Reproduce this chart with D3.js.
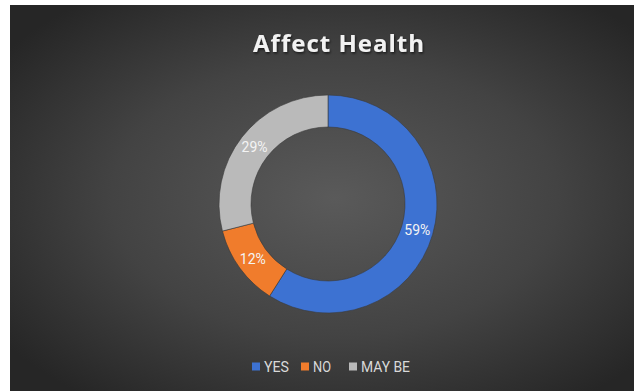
<!DOCTYPE html>
<html>
<head>
<meta charset="utf-8">
<script src="https://cdn.jsdelivr.net/npm/d3@7"></script>
<style>
  html, body { margin: 0; padding: 0; background: #ffffff; }
  svg { display: block; }
</style>
</head>
<body>
<svg id="chart" width="634" height="391"></svg>
<script>
// Survey answers and their shares (percent)
const categories = ["YES", "NO", "MAY BE"];
const values = [59, 12, 29];
const colors = ["#3d72d2", "#f07c2c", "#bababa"];
const title = "Affect Health";

const W = 634, H = 391;
const svg = d3.select("#chart");
const defs = svg.append("defs");

// Dark radial background of the chart area
const bg = defs.append("radialGradient").attr("id", "bgGrad")
  .attr("cx", "52%").attr("cy", "50%").attr("r", "65%");
bg.append("stop").attr("offset", "0%").attr("stop-color", "#5a5a5a");
bg.append("stop").attr("offset", "55%").attr("stop-color", "#434343");
bg.append("stop").attr("offset", "100%").attr("stop-color", "#262626");

// Soft shadow under the title
const shadow = defs.append("filter").attr("id", "titleShadow")
  .attr("x", "-10%").attr("y", "-30%").attr("width", "120%").attr("height", "160%");
shadow.append("feDropShadow")
  .attr("dx", 1).attr("dy", 1.5).attr("stdDeviation", 1.2)
  .attr("flood-color", "#000").attr("flood-opacity", 0.6);

const plot = { x: 10, y: 5, w: W - 10, h: H - 5 };
svg.append("rect")
  .attr("x", plot.x).attr("y", plot.y)
  .attr("width", plot.w).attr("height", plot.h)
  .attr("fill", "url(#bgGrad)");

// Title
svg.append("text")
  .attr("x", 339).attr("y", 52)
  .attr("text-anchor", "middle")
  .attr("font-family", "'Open Sans', 'DejaVu Sans', sans-serif")
  .attr("font-weight", "bold")
  .attr("font-size", 24)
  .attr("letter-spacing", 1)
  .attr("fill", "#f2f2f2")
  .attr("filter", "url(#titleShadow)")
  .text(title);

// Donut
const cx = 328, cy = 204;
const outerR = 109, innerR = 77;
const data = categories.map((c, i) => ({ cat: c, value: values[i], color: colors[i] }));

const pie = d3.pie().value(d => d.value).sort(null);
const arc = d3.arc().innerRadius(innerR).outerRadius(outerR);
const labelArc = d3.arc().innerRadius((innerR + outerR) / 2).outerRadius((innerR + outerR) / 2);

const g = svg.append("g").attr("transform", `translate(${cx},${cy})`);
const arcs = pie(data);

g.selectAll("path.slice")
  .data(arcs)
  .join("path")
  .attr("class", "slice")
  .attr("d", arc)
  .attr("fill", d => d.data.color)
  .attr("stroke", "#3a3a3a")
  .attr("stroke-width", 0.6);

g.selectAll("text.lbl")
  .data(arcs)
  .join("text")
  .attr("class", "lbl")
  .attr("transform", d => `translate(${labelArc.centroid(d)})`)
  .attr("text-anchor", "middle")
  .attr("dy", "0.35em")
  .attr("font-family", "'Liberation Sans Narrow', 'Roboto', sans-serif")
  .attr("font-size", 14)
  .attr("fill", "#f4f4f4")
  .text(d => d.data.value + "%");

// Legend
const legend = svg.append("g").attr("transform", "translate(252,367)");
const legendX = [0, 49, 97];
const legendTextW = [25, 18, 49];
const items = legend.selectAll("g.item")
  .data(data)
  .join("g")
  .attr("class", "item")
  .attr("transform", (d, i) => `translate(${legendX[i]},0)`);
items.append("rect")
  .attr("x", 0).attr("y", -4.5)
  .attr("width", 8).attr("height", 8)
  .attr("fill", d => d.color);
items.append("text")
  .attr("x", 12).attr("y", 0)
  .attr("dy", "0.36em")
  .attr("font-family", "'Liberation Sans Narrow', 'Roboto', sans-serif")
  .attr("font-size", 14)
  .attr("textLength", (d, i) => legendTextW[i])
  .attr("lengthAdjust", "spacingAndGlyphs")
  .attr("fill", "#d9d9d9")
  .text(d => d.cat);
</script>
</body>
</html>
